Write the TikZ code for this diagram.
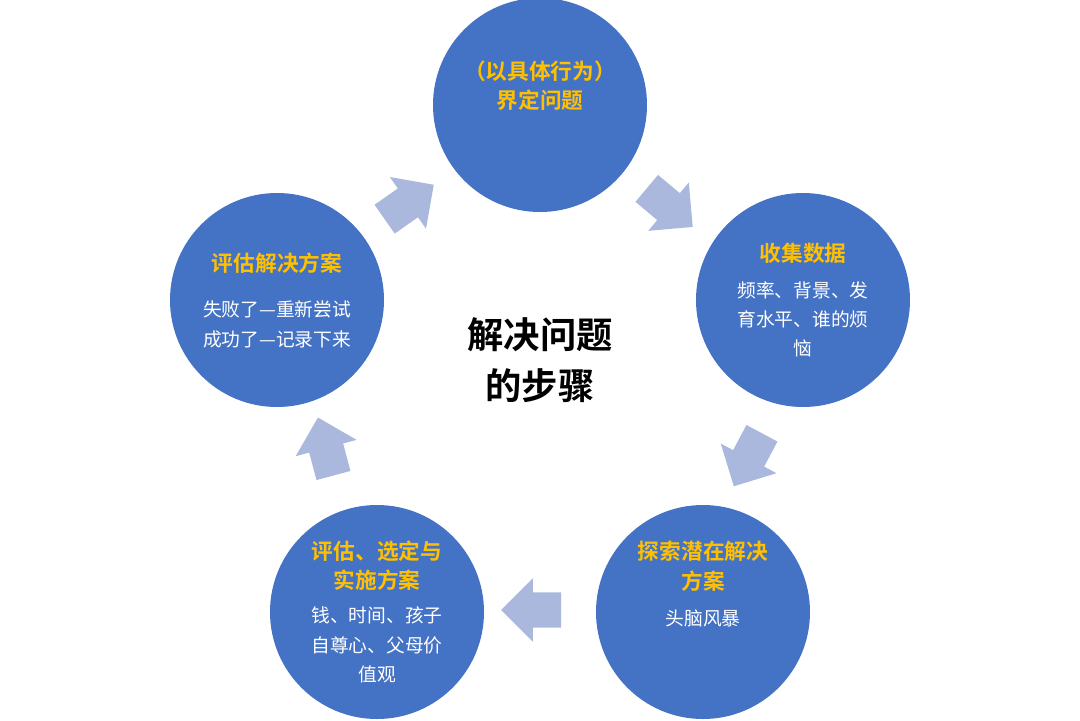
\documentclass[tikz,border=0pt]{standalone}
\usepackage{fontspec}
\newfontfamily\cjk[BoldFont={Noto Sans CJK SC Bold}]{Noto Sans CJK SC}
\usetikzlibrary{shapes.arrows}
\definecolor{circblue}{HTML}{4472C4}
\definecolor{headyellow}{HTML}{FFC000}
\definecolor{arrowgray}{HTML}{A9B8DC}
\newcommand{\stephead}[1]{\textcolor{headyellow}{\bfseries\fontsize{18.5}{25}\selectfont #1}}
\begin{document}
\begin{tikzpicture}
[
    x=0.03cm, y=-0.03cm,
    stepcirc/.style={circle,fill=circblue,minimum size=6.42cm,inner sep=0pt,align=center,text=white,font=\cjk\fontsize{16}{25}\selectfont},
    steparrow/.style={single arrow,fill=arrowgray,inner xsep=0pt,inner ysep=0.52cm,single arrow head extend=0.42cm,minimum height=1.8cm}
  ]
  \useasboundingbox (0,0) rectangle (1080,721);

  \node[stepcirc] (define) at (540,105) {\stephead{（以具体行为）}\\\stephead{界定问题}\\[10pt]};
  \node[stepcirc] (collect) at (803,300) {\stephead{收集数据}\\[6pt]频率、背景、发\\育水平、谁的烦\\恼};
  \node[stepcirc] (explore) at (703,612) {\stephead{探索潜在解决}\\\stephead{方案}\\[6pt]头脑风暴\\[24pt]};
  \node[stepcirc] (choose) at (377,612) {\stephead{评估、选定与}\\\stephead{实施方案}\\[4pt]钱、时间、孩子\\自尊心、父母价\\值观};
  \node[stepcirc] (evaluate) at (277,300) {\stephead{评估解决方案}\\[14pt]失败了—重新尝试\\成功了—记录下来};

  \node[font=\cjk\bfseries\fontsize{31}{44}\selectfont,align=center] (title) at (540,360) {解决问题\\的步骤};

  % arrows between the steps
  \node[steparrow,rotate=-40] (a1) at (663,202) {};
  \node[steparrow,rotate=-118] (a2) at (752,452) {};
  \node[steparrow,rotate=180] (a3) at (540,610) {};
  \node[steparrow,rotate=105] (a4) at (328,455) {};
  \node[steparrow,rotate=35] (a5) at (402,207) {};
\end{tikzpicture}
\end{document}
